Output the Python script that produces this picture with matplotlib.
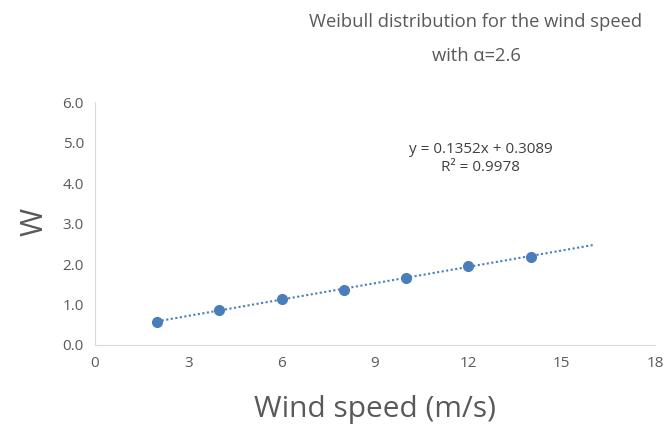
import numpy as np
import matplotlib
matplotlib.use('Agg')
import matplotlib.pyplot as plt

plt.rcParams['font.family'] = ['Open Sans', 'DejaVu Sans']

wind_speed = [2, 4, 6, 8, 10, 12, 14]
w_values = [0.58, 0.86, 1.13, 1.37, 1.66, 1.96, 2.18]
x_ticks = [0, 3, 6, 9, 12, 15, 18]
y_ticks = [0.0, 1.0, 2.0, 3.0, 4.0, 5.0, 6.0]
trend_range = [2, 16]

blue = '#4a7ebb'
grey = '#595959'

fig = plt.figure(figsize=(6.67, 4.32), dpi=100)
ax = fig.add_axes([95 / 667, 1 - 345 / 432, 560 / 667, 243 / 432])

# linear trendline
slope, intercept = np.polyfit(wind_speed, w_values, 1)
tx = np.array(trend_range)
ax.plot(tx, slope * tx + intercept, linestyle=(0, (1, 1.2)), color=blue, linewidth=1.5)
ax.plot(wind_speed, w_values, 'o', color=blue, markersize=7)

ax.set_xlim(0, 18)
ax.set_ylim(0, 6)
ax.set_xticks(x_ticks)
ax.set_yticks(y_ticks)
ax.set_yticklabels([f'{v:.1f}' for v in y_ticks])
ax.tick_params(length=0, labelsize=11, colors=grey, pad=8)

for side in ['top', 'right']:
    ax.spines[side].set_visible(False)
for side in ['left', 'bottom']:
    ax.spines[side].set_color('#d9d9d9')

ax.text(12.4, 4.6, 'y = 0.1352x + 0.3089\nR² = 0.9978', ha='center', va='center',
        fontsize=11, color='#404040', linespacing=1.3)

fig.text(476 / 667, 1 - 39 / 432, 'Weibull distribution for the wind speed\nwith α=2.6',
         ha='center', va='center', fontsize=13.2, color=grey, linespacing=2.1)
fig.text(375 / 667, 1 - 410 / 432, 'Wind speed (m/s)', ha='center', va='center',
         fontsize=21.5, color=grey)
fig.text(35 / 667, 1 - 222 / 432, 'W', ha='center', va='center', rotation=90,
         fontsize=22, color=grey)

fig.savefig('out.png', dpi=100)
